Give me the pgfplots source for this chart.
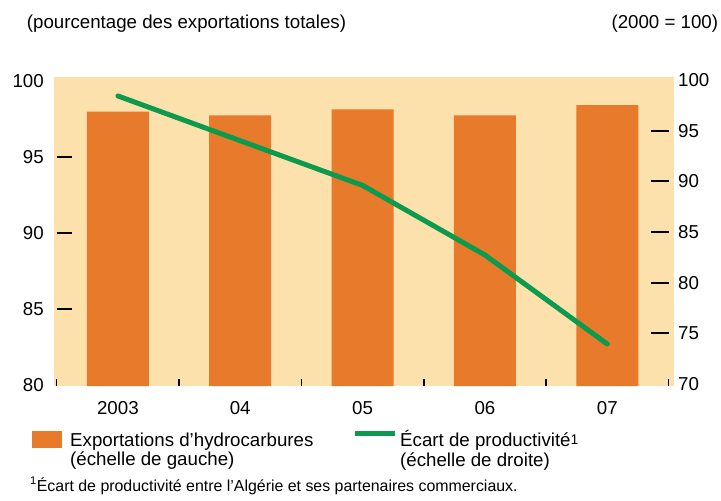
\documentclass[border=0pt]{standalone}
\usepackage{fontspec}
\setmainfont{Liberation Sans}
\usepackage{pgfplots}
\pgfplotsset{compat=1.18}
\definecolor{peach}{HTML}{FCE1AC}
\definecolor{barorange}{HTML}{E87A2C}
\definecolor{lgreen}{HTML}{0C9A4E}
\pgfplotstableread{
x y
0 97.96
1 97.71
2 98.12
3 97.71
4 98.39
}\bars
\pgfplotstableread{
x y
0 98.43
1 94.01
2 89.60
3 82.73
4 73.94
}\prod
\begin{document}
\fontsize{18.7bp}{22bp}\selectfont
\begin{tikzpicture}
\useasboundingbox (-56.7bp,-115bp) rectangle (664.3bp,386bp);
\fill[peach] (-2.7bp,0) rectangle (617.3bp,309bp);
\pgfplotsset{
  base/.style={
    at={(0,0)}, anchor=south west, scale only axis,
    width=611.8bp, height=309bp,
    xmin=-0.5, xmax=4.5,
    axis line style={draw=none},
    tick align=inside,
    /pgf/number format/assume math mode=true,
    tick label style={font=\fontsize{18.7bp}{22bp}\selectfont, inner sep=0pt},
    clip=false,
  }
}
% left axis with bars
\begin{axis}[base,
  ymin=79.914, ymax=100.243,
  xtick={0,...,4}, xticklabels={2003,04,05,06,07},
  xtick style={draw=none},
  xtick pos=bottom,
  xticklabel style={anchor=north, yshift=-15.7bp},
  ytick={85,90,95}, ytick pos=left,
  extra y ticks={80,100}, extra y tick style={major tick length=0pt},
  major tick length=15bp,
  ytick style={black, line width=2bp},
  yticklabel style={anchor=east, xshift=-12.7bp},
]
\addplot[ybar, bar width=62bp, fill=barorange, draw=none] table[x=x,y=y] {\bars};
\end{axis}
% x boundary ticks
\begin{axis}[base,
  ymin=0, ymax=1, ytick=\empty,
  xtick={-0.5,0.5,1.5,2.5,3.5,4.5}, xticklabels={},
  xtick pos=bottom,
  major tick length=7bp,
  xtick style={black, line width=1.5bp},
]
\end{axis}
% right axis with line
\begin{axis}[base,
  ymin=69.80, ymax=100.30,
  xtick=\empty,
  ytick={75,80,85,90,95}, ytick pos=right,
  extra y ticks={70,100}, extra y tick style={major tick length=0pt},
  major tick length=17bp,
  ytick style={black, line width=2bp},
  yticklabel pos=right,
  yticklabel style={anchor=west, xshift=9.5bp},
]
\addplot[lgreen, line width=5bp, line cap=round, line join=round] table[x=x,y=y] {\prod};
\end{axis}
\node[anchor=base west, inner sep=0] at (-30bp,357bp) {(pourcentage des exportations totales)};
\node[anchor=base east, inner sep=0] at (661.6bp,357bp) {(2000 = 100)};
\fill[barorange] (-25bp,-44.7bp) rectangle (5.6bp,-62.3bp);
\node[anchor=base west, inner sep=0] at (13.3bp,-60.7bp) {Exportations d'hydrocarbures};
\node[anchor=base west, inner sep=0] at (13.3bp,-79.5bp) {(échelle de gauche)};
\draw[lgreen, line width=5bp] (298.3bp,-47bp) -- (338.3bp,-47bp);
\node[anchor=base west, inner sep=0] at (343.3bp,-60bp) {Écart de productivité\raisebox{2bp}{\fontsize{14bp}{14bp}\selectfont 1}};
\node[anchor=base west, inner sep=0] at (343.3bp,-80bp) {(échelle de droite)};
\node[anchor=base west, inner sep=0, font=\fontsize{15.9bp}{18bp}\selectfont] at (-26.7bp,-105bp) {\textsuperscript{1}Écart de productivité entre l'Algérie et ses partenaires commerciaux.};
\end{tikzpicture}
\end{document}
